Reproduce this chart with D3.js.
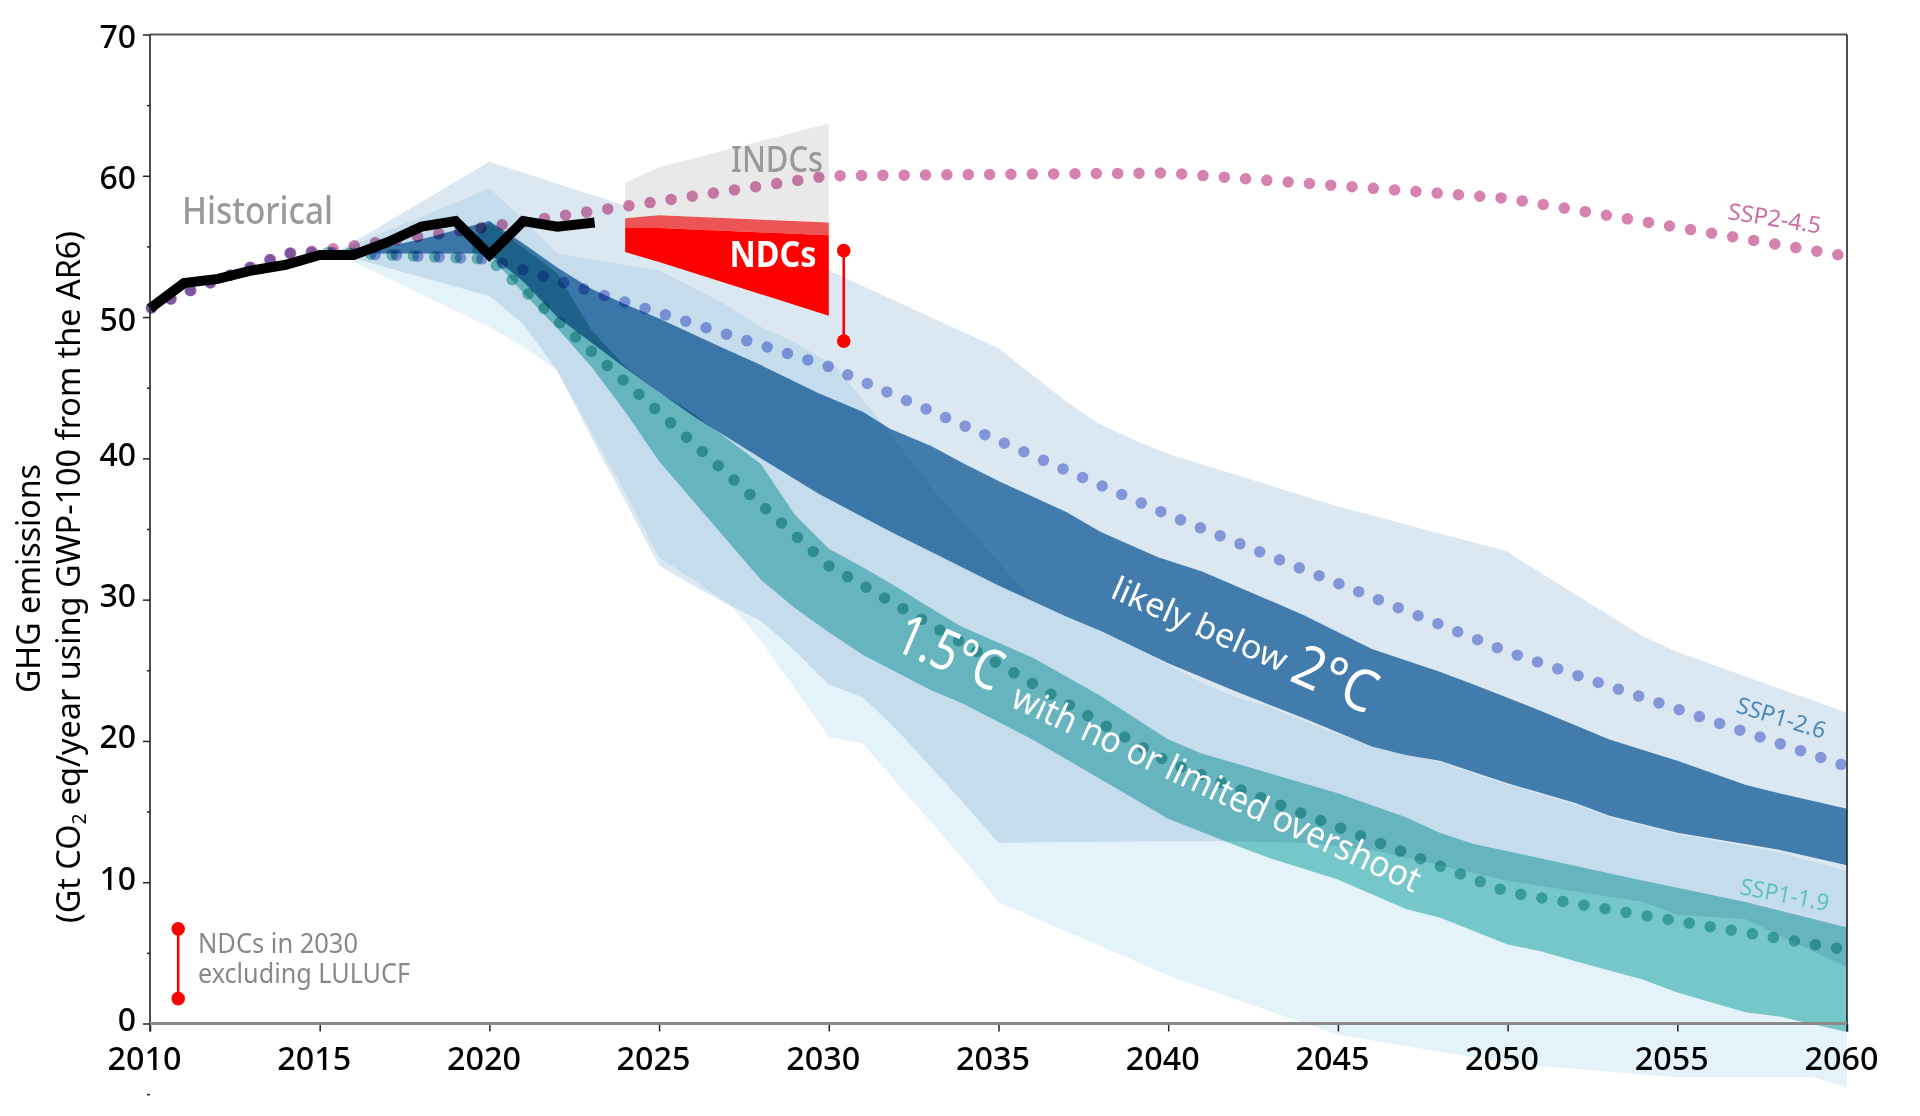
<!DOCTYPE html>
<html>
<head>
<meta charset="utf-8">
<script src="https://cdn.jsdelivr.net/npm/d3@7"></script>
<style>
  body { margin: 0; background: #fff; }
  svg { display: block; isolation: isolate; font-family: "Noto Sans", sans-serif; }
</style>
</head>
<body>
<script>
// [year, Gt CO2eq]
var historical = [[2010,50.6],[2011,52.4],[2012,52.7],[2013,53.3],[2014,53.7],[2015,54.4],[2016,54.4],[2017,55.3],[2018,56.4],[2019,56.8],[2020,54.4],[2021,56.8],[2022,56.4],[2023.1,56.7]];

var ssp245 = [[2010,50.6],[2011,51.7],[2014,54.5],[2015,54.7],[2020,56.4],[2030,60],[2040,60.2],[2050,58.4],[2060,54.3]];
var ssp126 = [[2010,50.6],[2011,51.7],[2014,54.5],[2015,54.6],[2020,54.1],[2030,46.5],[2040,36],[2050,26.3],[2060,18.2]];
var ssp119 = [[2015,54.6],[2020,54.1],[2030,32.4],[2040,18.5],[2050,9.3],[2060,5.2]];

// year where the picture has a dot on each dotted line
var ssp245Anchor = 2039.77;
var ssp126Anchor = 2045.03;
var ssp119Anchor = 2055.35;

// wide range, likely below 2C
var wide2cTop = [[2015.5,54.6],[2020,61],[2025,57.1],[2030,53.3],[2035,47.8],[2037,44],[2038,42.4],[2039,41.3],[2040,40.3],[2045,36.6],[2050,33.4],[2050.3,32.9],[2054,27.4],[2055,26.3],[2060,22]];
var wide2cBottom = [[2015.5,54.5],[2020,51.5],[2021,49.5],[2022,46.2],[2023,41.5],[2024,37],[2025,32.4],[2026,31],[2027,29.7],[2028,28.5],[2029,26.4],[2030,24],[2031,23.1],[2032,20.8],[2033.9,15.8],[2035,12.8],[2040,12.9],[2042,12.9],[2044,12.8],[2046,12.3],[2048,11.2],[2050,10.1],[2054,8.6],[2055,7.7],[2057,7.4],[2058.2,6],[2060,4]];

// wide range, 1.5C
var wide15Top = [[2015.5,54.6],[2020,59.1],[2021,56.9],[2022,54.5],[2025,53.3],[2026.8,51.1],[2028,49.3],[2029,48.2],[2030.2,46.5],[2031.5,42.7],[2033,38],[2036,30],[2037,28.9],[2038,27.8],[2040,25.4],[2041,24.1],[2042,23.1],[2043,22.4],[2044,21.4],[2046,19.6],[2048,18.5],[2050,16.9],[2052,15.5],[2053,14.6],[2055,13.4],[2056,13],[2058,12.1],[2060,10.8]];
var wide15Bottom = [[2015.5,54.5],[2020,49.3],[2021,47.9],[2022,46.2],[2023,41.9],[2024,37.6],[2025,33],[2026,31.4],[2027.1,29.6],[2028,27.1],[2029,23.7],[2030,20.3],[2031,19.8],[2033.9,11.8],[2035,8.6],[2040,3.4],[2042,1.7],[2045,-0.8],[2050,-2.8],[2055,-3.8],[2059,-3.8],[2060,-4.5]];

// narrow band, likely below 2C
var band2cTop = [[2016,54.5],[2018,55.5],[2020,56.8],[2021,55.2],[2022,53.5],[2023,52],[2024,50.9],[2025,49.9],[2026.8,47.9],[2028,46.6],[2029.7,44.6],[2031,43.3],[2031.8,42.1],[2033,40.9],[2034,39.6],[2035,38.4],[2036,37.3],[2037,36.2],[2038,34.8],[2039.7,33],[2041,32],[2044,28.9],[2046,26.5],[2048,24.9],[2049,24],[2051,22.1],[2053,20.1],[2055,18.6],[2057,16.9],[2058,16.3],[2060,15.2]];
var band2cBottom = [[2016,54.5],[2020,54.5],[2021,52.5],[2022,50],[2023,48.2],[2024,46.4],[2025,44.7],[2026,43],[2028,40],[2029.7,37.5],[2030.8,36.1],[2032,34.6],[2033,33.4],[2034,32.2],[2035,31],[2037,28.8],[2038,27.8],[2040,25.5],[2042,23.5],[2044,21.6],[2046,19.6],[2047,19],[2048,18.6],[2050,17],[2052,15.6],[2053,14.7],[2055,13.5],[2057,12.7],[2058,12.3],[2060,11.2]];

// narrow band, 1.5C
var band15Top = [[2019.5,55.5],[2020,56.7],[2021,54.9],[2022,53.1],[2023,49.1],[2024,46.5],[2025,44.7],[2026,43.2],[2027,41.4],[2028,39.6],[2029,36],[2030,33.6],[2031,32.3],[2032,30.9],[2032.6,30],[2033.9,28.1],[2036,25.9],[2038,23.2],[2040,20.1],[2041,19.1],[2045,16.3],[2047,14.6],[2048,13.5],[2049,12.7],[2050,12.2],[2054,10.1],[2055,9.6],[2057,8.6],[2058,8],[2060,6.8]];
var band15Bottom = [[2019.5,54.5],[2020,54.4],[2021,51.7],[2022,49.2],[2023,46.5],[2024,43.3],[2025,39.8],[2026,37],[2027,34.2],[2028,31.4],[2029,29.4],[2030,27.7],[2031,26.1],[2033,23.6],[2033.9,22.7],[2036,20.1],[2037,18.7],[2038,17.3],[2040,14.5],[2042,12.6],[2043,11.7],[2045,10.2],[2047,8.1],[2048,7.5],[2050,5.6],[2051,5.1],[2052,4.4],[2054,3.1],[2055,2.2],[2057,0.8],[2058,0.5],[2060,-0.6]];

// pledges
var indcTop = [[2024,59.5],[2025,60.6],[2030,63.7]];
var ndcTop = [[2024,57],[2025,57.2],[2030,56.7]];
var ndcMid = [[2024,56.3],[2025,56.3],[2030,55.8]];
var ndcBottom = [[2024,54.6],[2025,53.9],[2030,50.1]];
var lulucfBar = [[2030.44,54.7],[2030.44,48.3]];
var legendBar = [[2010.83,6.7],[2010.83,1.76]];

var xMajor = [2010,2015,2020,2025,2030,2035,2040,2045,2050,2055,2060];
var yMajor = [0,10,20,30,40,50,60,70];
var yMinor = [-5,5,15,25,35,45,55,65];

var svg = d3.select("body").append("svg")
  .attr("width", 1920)
  .attr("height", 1116);

svg.append("rect").attr("width", 1920).attr("height", 1116).attr("fill", "#fff");

var x = d3.scaleLinear().domain([2010, 2060]).range([150, 1847]);
var y = d3.scaleLinear().domain([0, 70]).range([1023.5, 34.5]);

var line = d3.line()
  .x(function (d) { return x(d[0]); })
  .y(function (d) { return y(d[1]); });

var band = function (top, bottom, color, blend) {
  svg.append("path")
    .attr("d", line(top.concat(bottom.slice().reverse())) + "Z")
    .attr("fill", color)
    .style("mix-blend-mode", blend || "normal");
};

band(wide2cTop, wide2cBottom, "#dbe7f1", "multiply");
band(wide15Top, wide15Bottom, "#e4f3f9", "multiply");
band(band15Top, band15Bottom, "#83d1ce", "multiply");
band(band2cTop, band2cBottom, "#4b89b7", "multiply");

band(indcTop, ndcTop, "#e9e9e9");
band(ndcTop, ndcMid, "#ec5456");
band(ndcMid, ndcBottom, "#fe0000");

var dotGap = 21.35;

var dotted = function (data, color, anchorYear) {
  var p = svg.append("path")
    .attr("d", line(data))
    .attr("fill", "none")
    .attr("stroke", color)
    .attr("stroke-width", 11.5)
    .attr("stroke-linecap", "round")
    .style("mix-blend-mode", "multiply");

  // walk along the path to the anchor so the dots fall where they do in the picture
  var node = p.node();
  var total = node.getTotalLength();
  var lo = 0, hi = total;
  while (hi - lo > 0.05) {
    var mid = (lo + hi) / 2;
    if (node.getPointAtLength(mid).x < x(anchorYear)) { lo = mid; } else { hi = mid; }
  }
  p.attr("stroke-dasharray", "0 " + dotGap)
    .attr("stroke-dashoffset", dotGap - (lo % dotGap));
};

dotted(ssp245, "#d681b0", ssp245Anchor);
dotted(ssp126, "#9aa6e7", ssp126Anchor);
dotted(ssp119, "#78c8c0", ssp119Anchor);

svg.append("path")
  .attr("d", line(historical))
  .attr("fill", "none")
  .attr("stroke", "#000")
  .attr("stroke-width", 10);

// axes
var xAxis = svg.append("g")
  .attr("transform", "translate(0," + y(0) + ")")
  .call(d3.axisBottom(x).tickValues(xMajor).tickSize(8).tickFormat(d3.format("d")));
xAxis.select(".domain").remove();
xAxis.selectAll("line").attr("stroke", "#222").attr("stroke-width", 1.5);
xAxis.selectAll("text")
  .attr("y", 46.5)
  .attr("dy", 0)
  .attr("dx", -6)
  .attr("fill", "#000")
  .attr("textLength", 74)
  .attr("lengthAdjust", "spacingAndGlyphs")
  .style("font-size", "33px")
  .style("font-weight", 500)
  .style("font-family", "'Noto Sans', sans-serif");

var yAxis = svg.append("g")
  .attr("transform", "translate(" + x(2010) + ",0)")
  .call(d3.axisLeft(y).tickValues(yMajor).tickSize(7));
yAxis.select(".domain").remove();
yAxis.selectAll("line").attr("stroke", "#222").attr("stroke-width", 1.5);
yAxis.selectAll("text")
  .attr("x", -14)
  .attr("dy", function (d) { return d >= 50 ? 13 : 7; })
  .attr("fill", "#000")
  .style("font-size", "32px")
  .style("font-weight", 500)
  .style("font-family", "'Noto Sans', sans-serif");

var yMinorAxis = svg.append("g")
  .attr("transform", "translate(" + x(2010) + ",0)")
  .call(d3.axisLeft(y).tickValues(yMinor).tickSize(3).tickFormat(""));
yMinorAxis.select(".domain").remove();
yMinorAxis.selectAll("line").attr("stroke", "#222").attr("stroke-width", 1.5);

// frame
svg.append("line").attr("x1", x(2010)).attr("x2", x(2060)).attr("y1", y(70)).attr("y2", y(70))
  .attr("stroke", "#555").attr("stroke-width", 2);
svg.append("line").attr("x1", x(2010)).attr("x2", x(2010)).attr("y1", y(70)).attr("y2", y(0) + 8)
  .attr("stroke", "#222").attr("stroke-width", 1.6);
svg.append("line").attr("x1", x(2060)).attr("x2", x(2060)).attr("y1", y(70)).attr("y2", y(0) + 8)
  .attr("stroke", "#222").attr("stroke-width", 1.6);
svg.append("line").attr("x1", x(2010)).attr("x2", x(2060)).attr("y1", y(0)).attr("y2", y(0))
  .attr("stroke", "#8a8a8a").attr("stroke-width", 3);

// red bars
[lulucfBar, legendBar].forEach(function (bar) {
  svg.append("path").attr("d", line(bar)).attr("stroke", "#fe0000").attr("stroke-width", 2.6).attr("fill", "none");
  svg.selectAll(null).data(bar).enter().append("circle")
    .attr("cx", function (d) { return x(d[0]); })
    .attr("cy", function (d) { return y(d[1]); })
    .attr("r", 6.8)
    .attr("fill", "#fe0000");
});

// labels
var label = function (txt, px, py, size, color, len, angle, weight) {
  var t = svg.append("text")
    .attr("transform", "translate(" + px + "," + py + ") rotate(" + (angle || 0) + ")")
    .attr("fill", color)
    .style("font-size", size + "px")
    .style("font-weight", weight || 400)
    .text(txt);
  if (len) t.attr("textLength", len).attr("lengthAdjust", "spacingAndGlyphs");
  return t;
};

label("Historical", 182, 224, 38, "#9a9a9a", 151, 0, 500);
label("INDCs", 731, 172, 36, "#999", 92, 0, 500);
label("NDCs", 729.5, 267, 36, "#fff", 87, 0, 700);
label("NDCs in 2030", 198, 953, 27, "#888", 160);
label("excluding LULUCF", 198, 983, 27, "#888", 212);
label("SSP2-4.5", 1727, 219, 23, "#c96fa6", 94, 9);
label("SSP1-2.6", 1735, 712, 23, "#4b87b8", 92, 17);
label("SSP1-1.9", 1739, 894, 23, "#5cc4b8", 90, 11);

label("1.5°C", 892, 649, 56, "#fff", 110, 23);
label("with no or limited overshoot", 1009, 706, 36, "#fff", 446, 24.8);
label("likely below", 1109, 597, 33, "#fff", 188, 23.6);
label("2°C", 1288, 680, 58, "#fff", 86, 23.5);

// y title
label("GHG emissions", 40, 693, 33, "#000", 229, -90);
var title2 = label("", 80, 923, 32, "#000", 692, -90);
title2.append("tspan").text("(Gt CO");
title2.append("tspan").attr("dy", 6).style("font-size", "19px").text("2");
title2.append("tspan").attr("dy", -6).text(" eq/year using GWP-100 from the AR6)");
</script>
</body>
</html>
